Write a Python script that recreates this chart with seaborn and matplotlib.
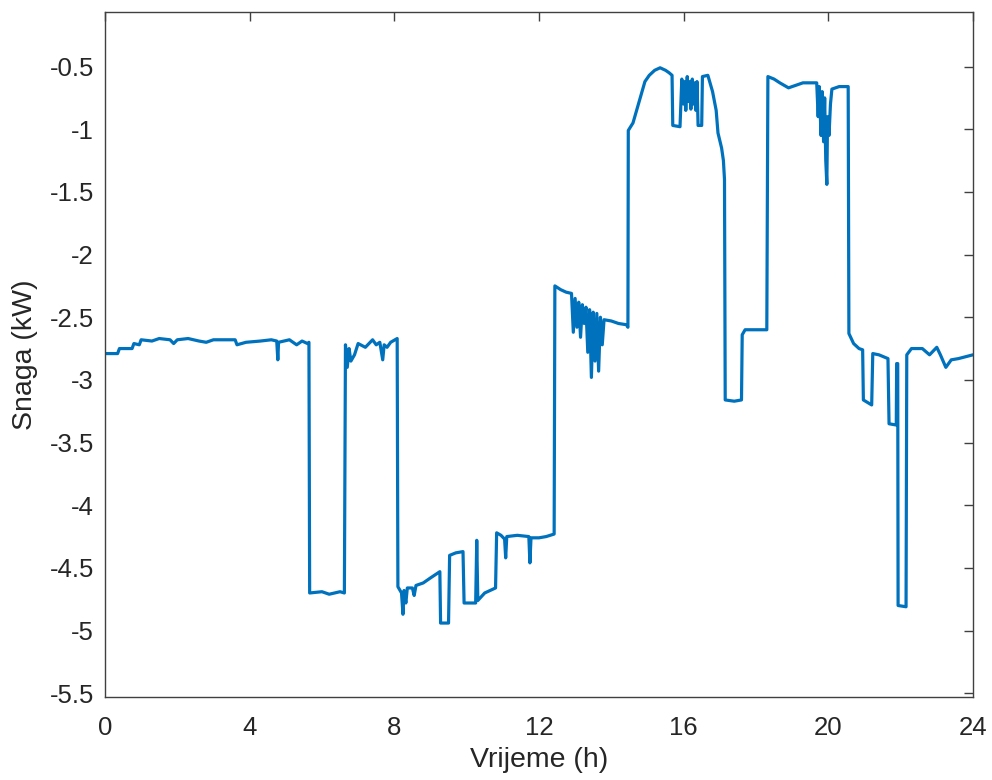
import pandas as pd
import seaborn as sns
import matplotlib.pyplot as plt
from matplotlib.ticker import FuncFormatter

# breakpoints of the power curve (hours, kW)
hours = [
    0.0, 0.35, 0.4, 0.75, 0.8, 0.95, 1.0, 1.3, 1.5, 1.8, 1.9, 2.0, 2.3, 2.6, 2.8, 3.0, 3.3, 3.6, 3.65, 3.9,
    4.3, 4.6, 4.75, 4.78, 4.8, 5.1, 5.3, 5.45, 5.6, 5.64,
    5.66, 6.0, 6.2, 6.5, 6.62,
    6.65, 6.7, 6.75, 6.8, 6.9, 7.0, 7.2, 7.4, 7.5, 7.6, 7.68, 7.72, 7.8, 7.9, 8.08,
    8.1, 8.2, 8.24, 8.27, 8.32, 8.36, 8.5, 8.55, 8.6, 8.8, 9.0, 9.26, 9.28, 9.5, 9.53, 9.7, 9.9, 9.93,
    10.25, 10.28, 10.31, 10.5, 10.8, 10.83, 10.95, 11.05, 11.08, 11.11, 11.4, 11.72, 11.75, 11.78,
    12.0, 12.2, 12.42,
    12.44, 12.6, 12.75, 12.9, 12.95, 13.0, 13.05, 13.1, 13.15, 13.2, 13.25, 13.3, 13.35, 13.4, 13.45,
    13.5, 13.55, 13.6, 13.65, 13.7, 13.75, 13.8, 14.0, 14.2, 14.42, 14.46,
    14.47, 14.6, 14.75, 14.93, 15.05, 15.2, 15.35, 15.5, 15.6, 15.68, 15.7, 15.9, 15.95, 16.0, 16.03,
    16.06, 16.1, 16.13, 16.17, 16.2, 16.24, 16.27, 16.3, 16.34, 16.37, 16.4, 16.5, 16.52, 16.67, 16.8,
    16.9, 16.95, 17.05, 17.1, 17.13, 17.15, 17.4, 17.6, 17.62, 17.7, 18.0, 18.3,
    18.33, 18.5, 18.66, 18.9, 19.1, 19.3, 19.68, 19.72, 19.75, 19.8, 19.83, 19.87, 19.9, 19.93, 19.96,
    19.98, 20.02, 20.06, 20.1, 20.3, 20.55,
    20.57, 20.7, 20.85, 20.95, 20.97, 21.2, 21.23, 21.4, 21.65, 21.68, 21.88, 21.89, 21.92, 21.93,
    22.15, 22.17, 22.3, 22.6, 22.8, 23.0, 23.1, 23.25, 23.4, 23.6, 24.0,
]
power = [
    -2.79, -2.79, -2.75, -2.75, -2.71, -2.72, -2.68, -2.69, -2.67, -2.68, -2.71, -2.68, -2.67, -2.69, -2.70, -2.68, -2.68, -2.68, -2.72, -2.70,
    -2.69, -2.68, -2.69, -2.84, -2.70, -2.68, -2.72, -2.69, -2.71, -2.70,
    -4.70, -4.69, -4.71, -4.69, -4.70,
    -2.72, -2.90, -2.75, -2.85, -2.80, -2.71, -2.74, -2.68, -2.72, -2.70, -2.84, -2.72, -2.74, -2.70, -2.67,
    -4.65, -4.70, -4.87, -4.68, -4.78, -4.66, -4.66, -4.72, -4.64, -4.62, -4.58, -4.53, -4.94, -4.94, -4.40, -4.38, -4.37, -4.78,
    -4.78, -4.28, -4.76, -4.70, -4.66, -4.22, -4.24, -4.27, -4.42, -4.25, -4.24, -4.25, -4.46, -4.26,
    -4.26, -4.25, -4.23,
    -2.25, -2.28, -2.30, -2.31, -2.62, -2.35, -2.58, -2.38, -2.66, -2.40, -2.55, -2.42, -2.78, -2.44, -2.98,
    -2.46, -2.85, -2.47, -2.93, -2.50, -2.72, -2.52, -2.53, -2.55, -2.56, -2.58,
    -1.01, -0.95, -0.80, -0.62, -0.57, -0.53, -0.51, -0.53, -0.55, -0.57, -0.97, -0.98, -0.60, -0.80, -0.62,
    -0.85, -0.58, -0.78, -0.62, -0.84, -0.60, -0.80, -0.63, -0.85, -0.62, -0.97, -0.97, -0.58, -0.57, -0.70,
    -0.85, -1.03, -1.15, -1.25, -1.40, -3.16, -3.17, -3.16, -2.64, -2.60, -2.60, -2.60,
    -0.58, -0.60, -0.63, -0.67, -0.65, -0.63, -0.63, -0.90, -0.66, -1.05, -0.70, -1.10, -0.75, -1.25, -1.44,
    -0.90, -1.05, -0.80, -0.68, -0.66, -0.66,
    -2.63, -2.71, -2.75, -2.76, -3.16, -3.20, -2.79, -2.80, -2.83, -3.35, -3.36, -2.87, -2.87, -4.80,
    -4.81, -2.80, -2.75, -2.75, -2.80, -2.74, -2.80, -2.90, -2.84, -2.83, -2.80,
]
x_ticks = [0, 4, 8, 12, 16, 20, 24]
y_ticks = [-5.5, -5, -4.5, -4, -3.5, -3, -2.5, -2, -1.5, -1, -0.5]

df = pd.DataFrame({'Vrijeme': hours, 'Snaga': power})

sns.set_style('white')
plt.rcParams['font.family'] = ['Liberation Sans', 'DejaVu Sans']

fig = plt.figure(figsize=(9.92, 7.8), dpi=100)
ax = fig.add_axes([0.1058, 0.1064, 0.875, 0.8782])

sns.lineplot(x='Vrijeme', y='Snaga', data=df, estimator=None, sort=False,
             color='#0072BD', linewidth=2.3, ax=ax)

ax.set_xlim(0, 24)
ax.set_ylim(-5.53, -0.065)
ax.set_xticks(x_ticks)
ax.set_yticks(y_ticks)
ax.yaxis.set_major_formatter(FuncFormatter(lambda v, pos: f'{v:g}'))

ax.tick_params(direction='in', length=6.5, width=1, top=True, right=True,
               labelsize=18.5, colors='#404040', labelcolor='#262626')
ax.tick_params(axis='x', pad=14)
ax.tick_params(axis='y', pad=8)
for s in ax.spines.values():
    s.set_color('#404040')
    s.set_linewidth(1.0)

ax.set_xlabel('Vrijeme (h)', fontsize=20.5, color='#262626', labelpad=5)
ax.set_ylabel('Snaga (kW)', fontsize=20.5, color='#262626', labelpad=8)

fig.savefig('out.png', dpi=100)
